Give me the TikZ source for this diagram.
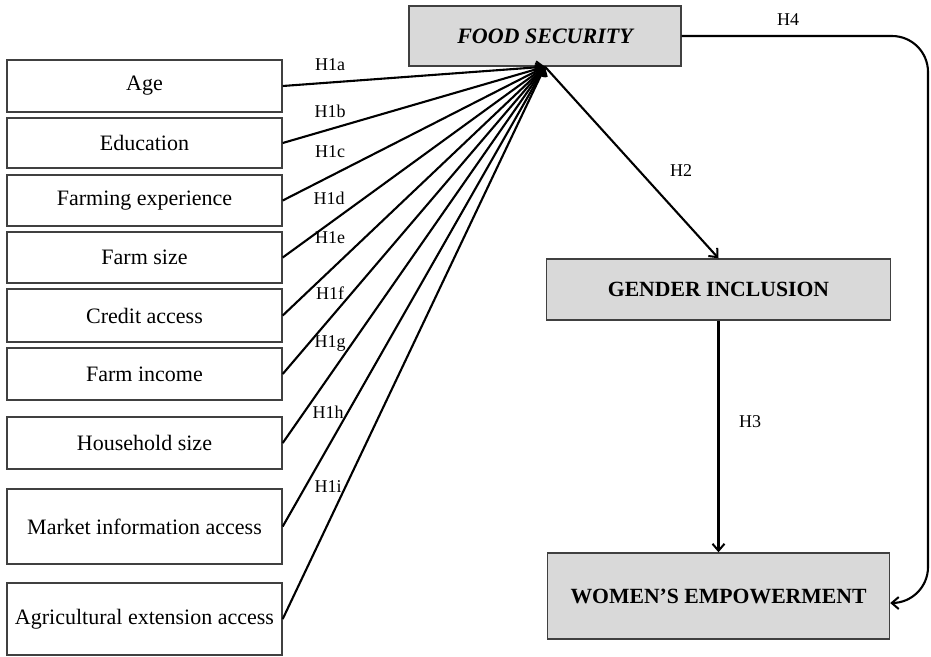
\documentclass[tikz,border=0pt]{standalone}
\usepackage{fontspec}
\setmainfont{Liberation Serif}
\usetikzlibrary{arrows.meta,calc}
\definecolor{boxgray}{HTML}{D9D9D9}
\definecolor{edgegray}{HTML}{404040}
\tikzset{
  factor/.style={draw=edgegray, line width=1.4pt, fill=white, rectangle, inner sep=0pt,
    minimum width=275pt, font=\fontsize{22}{25}\selectfont},
  keybox/.style={draw=edgegray, line width=1.4pt, fill=boxgray, rectangle, inner sep=0pt},
  conn/.style={draw=black, line width=2.1pt, -{Straight Barb[length=7pt,width=12pt,line width=2pt]}},
  hlabel/.style={font=\fontsize{18}{21}\selectfont, inner sep=0pt}
}
\begin{document}
\begin{tikzpicture}[x=1pt,y=-1pt]
\useasboundingbox (0,0) rectangle (931,656);

% central outcome boxes
\node[keybox, minimum width=272pt, minimum height=60pt,
      font=\fontsize{22}{25}\selectfont\bfseries\itshape] (fs) at (545,36) {FOOD SECURITY};
\node[keybox, minimum width=344pt, minimum height=61pt,
      font=\fontsize{21.7}{25}\selectfont\bfseries] (gi) at (718.5,289.5) {GENDER INCLUSION};
\node[keybox, minimum width=342pt, minimum height=86pt,
      font=\fontsize{21.7}{25}\selectfont\bfseries] (we) at (718.5,596) {WOMEN’S EMPOWERMENT};

% explanatory factors
\node[factor, minimum height=52pt] (age)  at (144.5,86)  {Age};
\node[factor, minimum height=50pt] (edu)  at (144.5,143) {Education};
\node[factor, minimum height=51pt] (exp)  at (144.5,200.5) {Farming experience};
\node[factor, minimum height=51pt] (size) at (144.5,257.5) {Farm size};
\node[factor, minimum height=53pt] (cred) at (144.5,315.5) {Credit access};
\node[factor, minimum height=52pt] (inc)  at (144.5,374) {Farm income};
\node[factor, minimum height=52pt] (hh)   at (144.5,443) {Household size};
\node[factor, minimum height=75pt] (mkt)  at (144.5,526.5) {Market information access};
\node[factor, minimum height=72pt] (ext)  at (144.5,619) {Agricultural extension access};

% H1 paths into food security
\foreach \src in {age,edu,exp,size,cred,inc,hh,mkt,ext}
  \draw[conn] (\src.east) -- (fs.south);

\node[hlabel] (h1a) at (330,65)  {H1a};
\node[hlabel] (h1b) at (330,111) {H1b};
\node[hlabel] (h1c) at (330,152) {H1c};
\node[hlabel] (h1d) at (329,198) {H1d};
\node[hlabel] (h1e) at (330,238) {H1e};
\node[hlabel] (h1f) at (330,293) {H1f};
\node[hlabel] (h1g) at (330,343) {H1g};
\node[hlabel] (h1h) at (328,412) {H1h};
\node[hlabel] (h1i) at (328,487) {H1i};

% paths between the outcome boxes
\draw[conn] (fs.south) -- (gi.north);
\node[hlabel] (h2) at (681,171) {H2};

\draw[conn] (gi.south) -- (we.north);
\node[hlabel] (h3) at (750,422) {H3};

\coordinate (weIn) at ($(we.east)+(0,7)$);
\draw[conn, rounded corners=36pt] (fs.east) -- (928,36) -- (928,603) -- (weIn);
\node[hlabel] (h4) at (788,20) {H4};
\end{tikzpicture}
\end{document}
